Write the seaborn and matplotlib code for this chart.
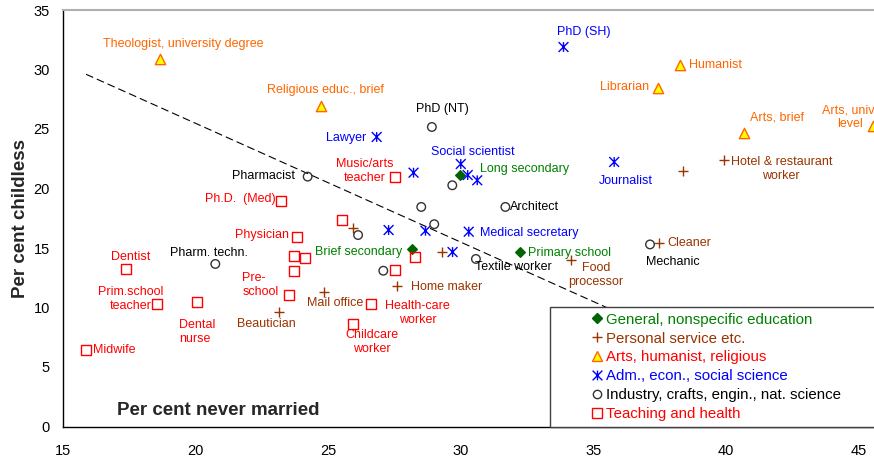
import matplotlib
matplotlib.use('Agg')
import matplotlib.pyplot as plt
import seaborn as sns
from matplotlib.path import Path
from matplotlib.lines import Line2D
from matplotlib.patches import Rectangle

# ---- data (per cent never married, per cent childless) ----
general_x = [28.15, 29.98, 32.23]
general_y = [14.9, 21.15, 14.65]
general_labels = ['Brief secondary', 'Long secondary', 'Primary school']

service_x = [23.14, 24.83, 25.93, 27.58, 29.29, 34.15, 37.48, 38.37, 39.93]
service_y = [9.62, 11.28, 16.65, 11.83, 14.66, 13.97, 15.42, 21.5, 22.39]
service_labels = ['Beautician', 'Mail office', '', 'Home maker', '', 'Food\nprocessor',
                  'Cleaner', '', 'Hotel & restaurant\nworker']

arts_x = [18.68, 24.72, 38.26, 37.44, 40.66, 45.52]
arts_y = [30.86, 26.93, 30.35, 28.42, 24.66, 25.25]
arts_labels = ['Theologist, university degree', 'Religious educ., brief', 'Humanist',
               'Librarian', 'Arts, brief', 'Arts, univ.\nlevel']

adm_x = [33.87, 26.83, 28.22, 30.0, 30.26, 30.62, 27.28, 28.67, 30.30, 29.69, 35.78]
adm_y = [31.89, 24.33, 21.33, 22.06, 21.13, 20.69, 16.51, 16.45, 16.37, 14.66, 22.23]
adm_labels = ['PhD (SH)', 'Lawyer', '', 'Social scientist', '', '', '', '',
              'Medical secretary', '', 'Journalist']

industry_x = [20.75, 24.23, 26.13, 27.08, 28.91, 29.68, 28.51, 29.0, 31.68, 30.57, 37.13]
industry_y = [13.66, 21.0, 16.09, 13.09, 25.17, 20.27, 18.45, 17.0, 18.45, 14.08, 15.3]
industry_labels = ['Pharm. techn.', 'Pharmacist', '', '', 'PhD (NT)', '', '', '',
                   'Architect', 'Textile worker', 'Mechanic']

teaching_x = [15.88, 17.37, 18.56, 20.07, 23.54, 23.83, 23.24, 23.70, 24.12, 23.72,
              25.52, 27.51, 28.29, 27.52, 26.63, 25.93]
teaching_y = [6.43, 13.24, 10.32, 10.44, 11.08, 15.95, 18.95, 14.35, 14.19, 13.09,
              17.35, 13.15, 14.22, 20.97, 10.27, 8.64]
teaching_labels = ['Midwife', 'Dentist', 'Prim.school\nteacher', 'Dental\nnurse',
                   'Pre-\nschool', 'Physician', 'Ph.D.  (Med)', '', '', '', '', '', '',
                   'Music/arts\nteacher', 'Health-care\nworker', 'Childcare\nworker']

# fitted trend line end points
trend_x = [15.88, 40.0]
trend_y = [29.6, 5.5]

# ---- label placement (offset in pixels, alignment) ----
label_pos = {
    'Brief secondary': (-9, -3, 'right'), 'Long secondary': (20, 6, 'left'),
    'Primary school': (8, -1, 'left'),
    'Beautician': (-12, -12, 'center'), 'Mail office': (12, -11, 'center'),
    'Home maker': (14, -1, 'left'), 'Food\nprocessor': (25, -15, 'center'),
    'Cleaner': (8, 0, 'left'), 'Hotel & restaurant\nworker': (57, -9, 'center'),
    'Theologist, university degree': (23, 15, 'center'),
    'Religious educ., brief': (5, 16, 'center'), 'Humanist': (9, 0, 'left'),
    'Librarian': (-9, 1, 'right'), 'Arts, brief': (33, 16, 'center'),
    'Arts, univ.\nlevel': (-23, 9, 'center'),
    'PhD (SH)': (20, 15, 'center'), 'Lawyer': (-10, -1, 'right'),
    'Social scientist': (12, 12, 'center'), 'Medical secretary': (11, -1, 'left'),
    'Journalist': (12, -19, 'center'),
    'Pharm. techn.': (-6, 11, 'center'), 'Pharmacist': (-13, 1, 'right'),
    'PhD (NT)': (11, 18, 'center'), 'Architect': (5, 0, 'left'),
    'Textile worker': (37, -8, 'center'), 'Mechanic': (-4, -18, 'left'),
    'Midwife': (7, 0, 'left'), 'Dentist': (5, 12, 'center'),
    'Prim.school\nteacher': (-26, 5, 'center'), 'Dental\nnurse': (-18, -30, 'left'),
    'Pre-\nschool': (-47, 10, 'left'), 'Physician': (-8, 2, 'right'),
    'Ph.D.  (Med)': (-6, 2, 'right'), 'Music/arts\nteacher': (-30, 6, 'center'),
    'Health-care\nworker': (46, -9, 'center'), 'Childcare\nworker': (19, -18, 'center'),
}

sns.set_style('white')
plt.rcParams['font.family'] = ['Liberation Sans', 'DejaVu Sans']

asterisk = Path([(-1, -1), (1, 1), (-1, 1), (1, -1), (0, -1), (0, 1)],
                [Path.MOVETO, Path.LINETO] * 3)

groups = [
    dict(name='General, nonspecific education', x=general_x, y=general_y, labels=general_labels,
         marker='D', s=24, fc='#006400', ec='#006400', text='#008000', leg='#008000', ms=5),
    dict(name='Personal service etc.', x=service_x, y=service_y, labels=service_labels,
         marker='+', s=55, fc='#993300', ec='#993300', text='#993300', leg='#993300', ms=7),
    dict(name='Arts, humanist, religious', x=arts_x, y=arts_y, labels=arts_labels,
         marker='^', s=55, fc='#FFFF00', ec='#FF6600', text='#FF6600', leg='#FF0000', ms=7),
    dict(name='Adm., econ., social science', x=adm_x, y=adm_y, labels=adm_labels,
         marker=asterisk, s=50, fc='none', ec='#0000FF', text='#0000FF', leg='#0000FF', ms=7),
    dict(name='Industry, crafts, engin., nat. science', x=industry_x, y=industry_y,
         labels=industry_labels, marker='o', s=38, fc='none', ec='#333333', text='#000000',
         leg='#000000', ms=6),
    dict(name='Teaching and health', x=teaching_x, y=teaching_y, labels=teaching_labels,
         marker='s', s=50, fc='none', ec='#FF0000', text='#FF0000', leg='#FF0000', ms=6.5),
]

fig = plt.figure(figsize=(8.74, 4.59), dpi=100)
ax = fig.add_axes([62.7 / 874, 32.5 / 459, 811.3 / 874, 416.5 / 459])

sns.lineplot(x=trend_x, y=trend_y, color='black', linewidth=0.8,
             linestyle=(0, (7, 3.6)), ax=ax, zorder=2)

handles = []
for g in groups:
    sns.scatterplot(x=g['x'], y=g['y'], marker=g['marker'], s=g['s'], color=g['ec'],
                    facecolor=g['fc'], edgecolor=g['ec'], linewidth=1, ax=ax,
                    legend=False, zorder=4)
    for xi, yi, lab in zip(g['x'], g['y'], g['labels']):
        if not lab:
            continue
        dx, dy, ha = label_pos[lab]
        ax.annotate(lab, (xi, yi), xytext=(dx, dy), textcoords='offset pixels',
                    ha=ha, va='center', multialignment=ha,
                    color=g['text'], fontsize=9, zorder=5)
    handles.append(Line2D([], [], linestyle='none', marker=g['marker'], markersize=g['ms'],
                          markerfacecolor=g['fc'], markeredgecolor=g['ec'],
                          markeredgewidth=1))

# legend box
ax.add_patch(Rectangle((0.6006, 0), 0.6, 0.2876, transform=ax.transAxes,
                       facecolor='white', edgecolor='#404040', linewidth=1,
                       zorder=3, clip_on=False))
leg = ax.legend(handles, [g['name'] for g in groups], loc='upper left',
                bbox_to_anchor=(0.6533, 0.2735), frameon=False, fontsize=10.8,
                handlelength=0.6, handletextpad=0.3, labelspacing=0.33,
                borderpad=0, borderaxespad=0, labelcolor=[g['leg'] for g in groups])
leg.set_zorder(6)

ax.text(17.05, 0.97, 'Per cent never married', fontsize=13.5, fontweight='bold',
        va='baseline', ha='left', zorder=5)
ax.set_ylabel('Per cent childless', fontsize=13.5, fontweight='bold', labelpad=3)

ax.set_xlim(15, 45.57)
ax.set_ylim(0, 35)
ax.set_xticks(range(15, 46, 5))
ax.set_yticks(range(0, 36, 5))
ax.tick_params(axis='both', direction='out', length=3.3, width=1, color='black',
               labelcolor='black', labelsize=10.5)
ax.tick_params(axis='x', pad=9)
ax.tick_params(axis='y', pad=6)

for side in ['left', 'bottom']:
    ax.spines[side].set_color('black')
    ax.spines[side].set_linewidth(1)
ax.spines['top'].set_color('#B0B0B0')
ax.spines['top'].set_linewidth(1.5)
ax.spines['right'].set_visible(False)

fig.savefig('out.png', dpi=100)
plt.close(fig)
